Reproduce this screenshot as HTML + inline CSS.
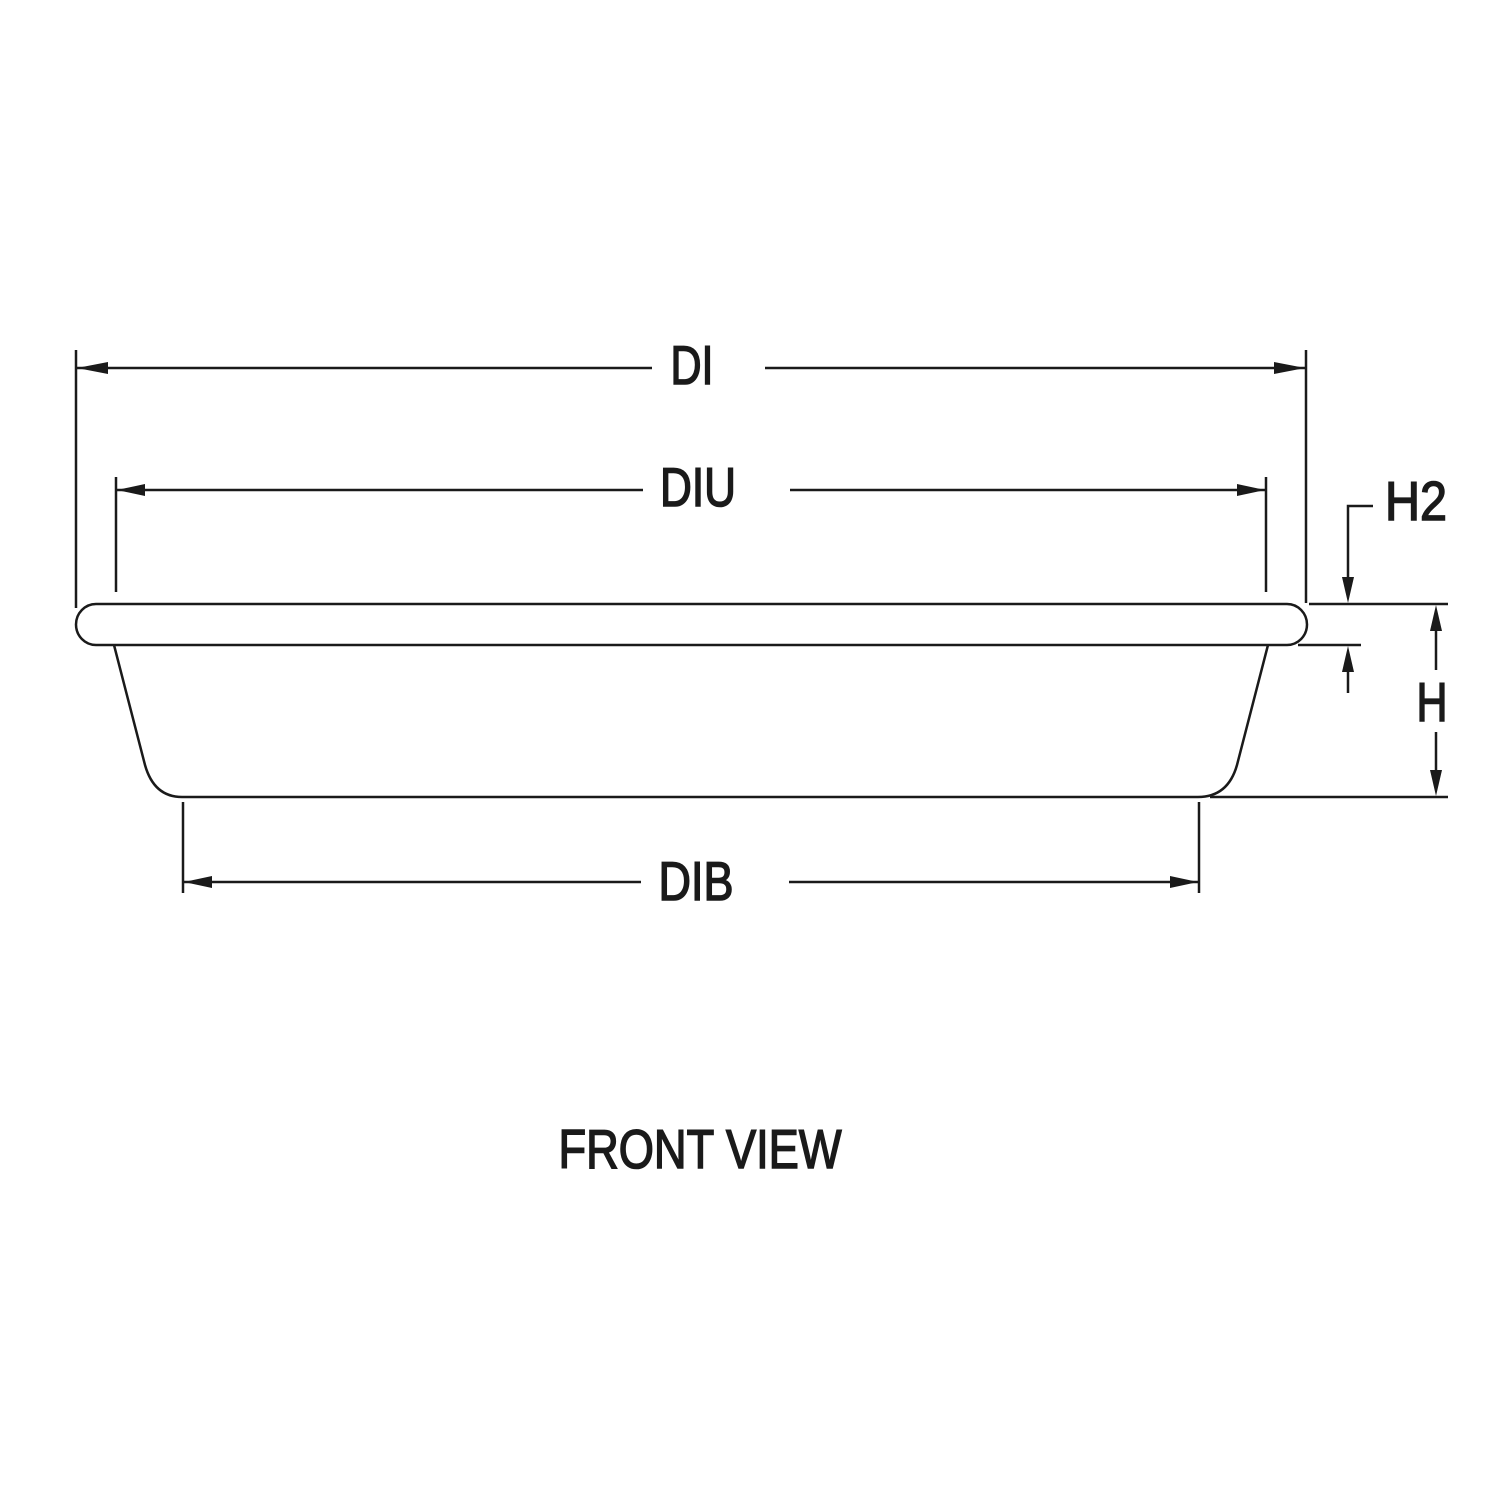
<!DOCTYPE html>
<html><head><style>html,body{margin:0;padding:0;background:#fff}svg{display:block}</style></head>
<body>
<svg width="1500" height="1500" viewBox="0 0 1500 1500" xmlns="http://www.w3.org/2000/svg">
<g stroke="#1a1a1a" stroke-width="2.5" fill="none">
<path d="M96,604 H1287 A20,20.5 0 0 1 1287,645 H96 A20,20.5 0 0 1 96,604 Z"/>
<path d="M114,645 L145,765 Q154,797 182,797 H1198 Q1228,797 1237,765 L1268,645"/>
<line x1="76" y1="350" x2="76" y2="608"/>
<line x1="1306" y1="350" x2="1306" y2="603"/>
<line x1="76" y1="368" x2="652" y2="368"/>
<line x1="765" y1="368" x2="1306" y2="368"/>
<line x1="116" y1="477" x2="116" y2="592"/>
<line x1="1266" y1="477" x2="1266" y2="592"/>
<line x1="116" y1="490" x2="643" y2="490"/>
<line x1="790" y1="490" x2="1266" y2="490"/>
<line x1="183" y1="802" x2="183" y2="893"/>
<line x1="1199" y1="802" x2="1199" y2="893"/>
<line x1="183" y1="882" x2="641" y2="882"/>
<line x1="789" y1="882" x2="1199" y2="882"/>
<line x1="1309" y1="604" x2="1448" y2="604"/>
<line x1="1298" y1="645" x2="1361" y2="645"/>
<line x1="1210" y1="797" x2="1448" y2="797"/>
<polyline points="1373,506 1348,506 1348,590"/>
<line x1="1348" y1="655" x2="1348" y2="693"/>
<line x1="1436" y1="615" x2="1436" y2="670"/>
<line x1="1436" y1="732" x2="1436" y2="786"/>
</g>
<g fill="#1a1a1a">
<polygon points="77,368 108,362 108,374"/>
<polygon points="1305,368 1274,362 1274,374"/>
<polygon points="117,490 145,484 145,496"/>
<polygon points="1265,490 1237,484 1237,496"/>
<polygon points="184,882 212,876 212,888"/>
<polygon points="1198,882 1170,876 1170,888"/>
<polygon points="1348,603 1342,577 1354,577"/>
<polygon points="1348,646 1342,672 1354,672"/>
<polygon points="1436,605 1430,631 1442,631"/>
<polygon points="1436,796 1430,770 1442,770"/>
</g>
<g font-family="'Liberation Sans', sans-serif" font-size="55" fill="#1a1a1a" stroke="#1a1a1a" stroke-width="1.6" text-anchor="middle">
<text x="692" y="384" textLength="43" lengthAdjust="spacingAndGlyphs">DI</text>
<text x="698" y="506" textLength="76" lengthAdjust="spacingAndGlyphs">DIU</text>
<text x="696" y="900" textLength="75" lengthAdjust="spacingAndGlyphs">DIB</text>
<text x="1416" y="520" textLength="62" lengthAdjust="spacingAndGlyphs">H2</text>
<text x="1432" y="721" textLength="31" lengthAdjust="spacingAndGlyphs">H</text>
<text x="700" y="1168" textLength="283" lengthAdjust="spacingAndGlyphs">FRONT VIEW</text>
</g>
</svg>
</body></html>
